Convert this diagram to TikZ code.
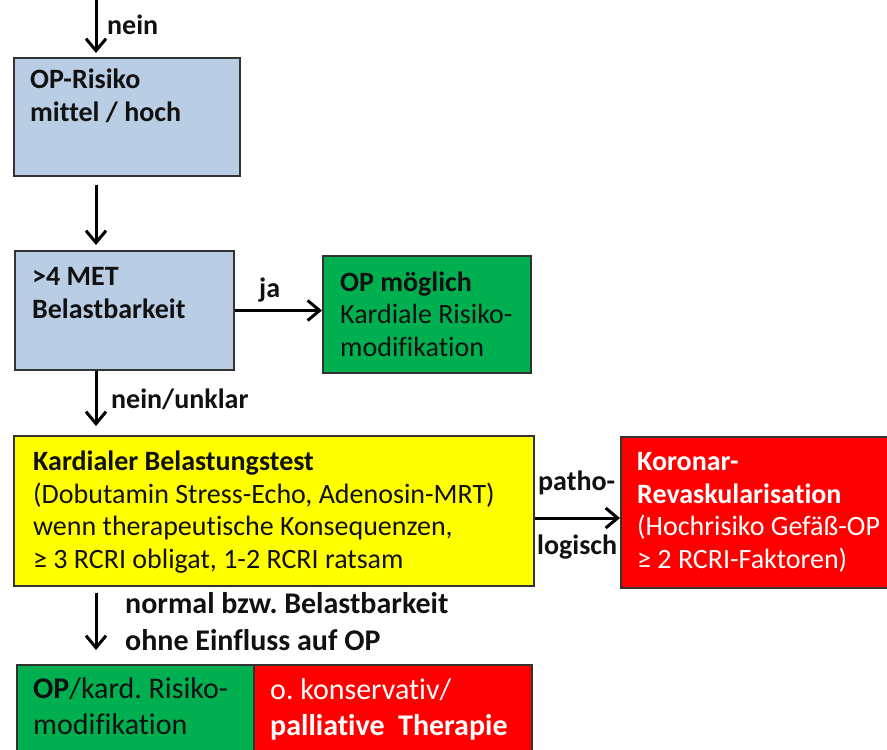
\documentclass[tikz,border=0pt]{standalone}
\usepackage{fontspec}
\setmainfont{Carlito}[Ligatures=NoCommon]
\usetikzlibrary{arrows.meta}
\definecolor{riskblue}{HTML}{B9CDE5}
\definecolor{okgreen}{HTML}{00B050}
\definecolor{testyellow}{HTML}{FFFF00}
\definecolor{alertred}{HTML}{FF0000}
\definecolor{frame}{HTML}{333333}
\definecolor{ink}{HTML}{111111}
\frenchspacing

% texts are placed by the baseline of their last line
\tikzset{
  stepbox/.style={draw=frame, line width=2pt, rectangle, anchor=north west, inner sep=0pt},
  txt/.style={anchor=base west, inner sep=0pt, align=left, text=ink,
    font=\fontsize{28}{32.5}\selectfont},
  btxt/.style={txt, font=\fontsize{28}{32.5}\selectfont\bfseries},
  bigtxt/.style={txt, font=\fontsize{30}{36}\selectfont},
  flow/.style={line width=3pt, draw=black,
    -{Straight Barb[length=12pt,width=20pt,line width=3pt]}},
}

\begin{document}
\begin{tikzpicture}[x=1pt,y=-1pt]
\useasboundingbox (0,0) rectangle (887,750);
\clip (0,0) rectangle (887,750);

% boxes
\node[stepbox, fill=riskblue, minimum width=226pt, minimum height=118pt] (risk) at (13,57) {};
\node[stepbox, fill=riskblue, minimum width=219pt, minimum height=119pt] (met) at (14,250) {};
\node[stepbox, fill=okgreen, minimum width=208pt, minimum height=117pt] (ok) at (322,255) {};
\node[stepbox, fill=testyellow, minimum width=520pt, minimum height=150pt] (test) at (13,435) {};
\node[stepbox, fill=alertred, minimum width=290pt, minimum height=151pt] (revas) at (620,436) {};
\node[stepbox, fill=okgreen, minimum width=237pt, minimum height=110pt] (opmod) at (16,664) {};
\node[stepbox, fill=alertred, minimum width=278pt, minimum height=110pt] (pall) at (253,664) {};

% box texts
\node[btxt] (riskT) at (30,121) {OP-Risiko\\mittel / hoch};
\node[btxt] (metT) at (32,318) {>4 MET\\Belastbarkeit};
\node[txt] (okT) at (340,356) {\textbf{OP möglich}\\Kardiale Risiko-\\modifikation};
\node[txt] (testT) at (33,568) {\textbf{Kardialer Belastungstest}\\(Dobutamin Stress-Echo, Adenosin-MRT)\\wenn therapeutische Konsequenzen,\\≥ 3 RCRI obligat, 1-2 RCRI ratsam};
\node[txt, text=white] (revasT) at (637,568) {\textbf{Koronar-}\\\textbf{Revaskularisation}\\(Hochrisiko Gefäß-OP\\≥ 2 RCRI-Faktoren)};
\node[bigtxt] (opmodT) at (33,734) {\textbf{OP}/kard. Risiko-\\modifikation};
\node[bigtxt, text=white] (pallT) at (270,735) {o. konservativ/\\\textbf{palliative\ \ Therapie}};

% connectors
\coordinate (entry) at (96,0);
\coordinate (pathoY) at (0,518);
\draw[flow, shorten >=4pt] (entry) -- (entry |- risk.north);
\draw[flow, shorten <=8pt, shorten >=5pt] (entry |- risk.south) -- (entry |- met.north);
\draw[flow] (met.east) -- (met.east -| ok.west);
\draw[flow, shorten >=9pt] (entry |- met.south) -- (entry |- test.north);
\draw[flow] (test.east |- pathoY) -- (revas.west |- pathoY);
\draw[flow, shorten <=6pt, shorten >=14pt] (entry |- test.south) -- (entry |- opmod.north);

% connector labels
\node[btxt] (neinA) at (107,34) {nein};
\node[btxt] (jaL) at (259,297) {ja};
\node[btxt] (neinB) at (111,408) {nein/unklar};
\node[btxt] (pathoL) at (538,490) {patho-};
\node[btxt] (logL) at (537,554) {logisch};
\node[btxt, font=\fontsize{30}{37}\selectfont\bfseries] (normL) at (125,650) {normal bzw. Belastbarkeit\\ohne Einfluss auf OP};
\end{tikzpicture}
\end{document}
